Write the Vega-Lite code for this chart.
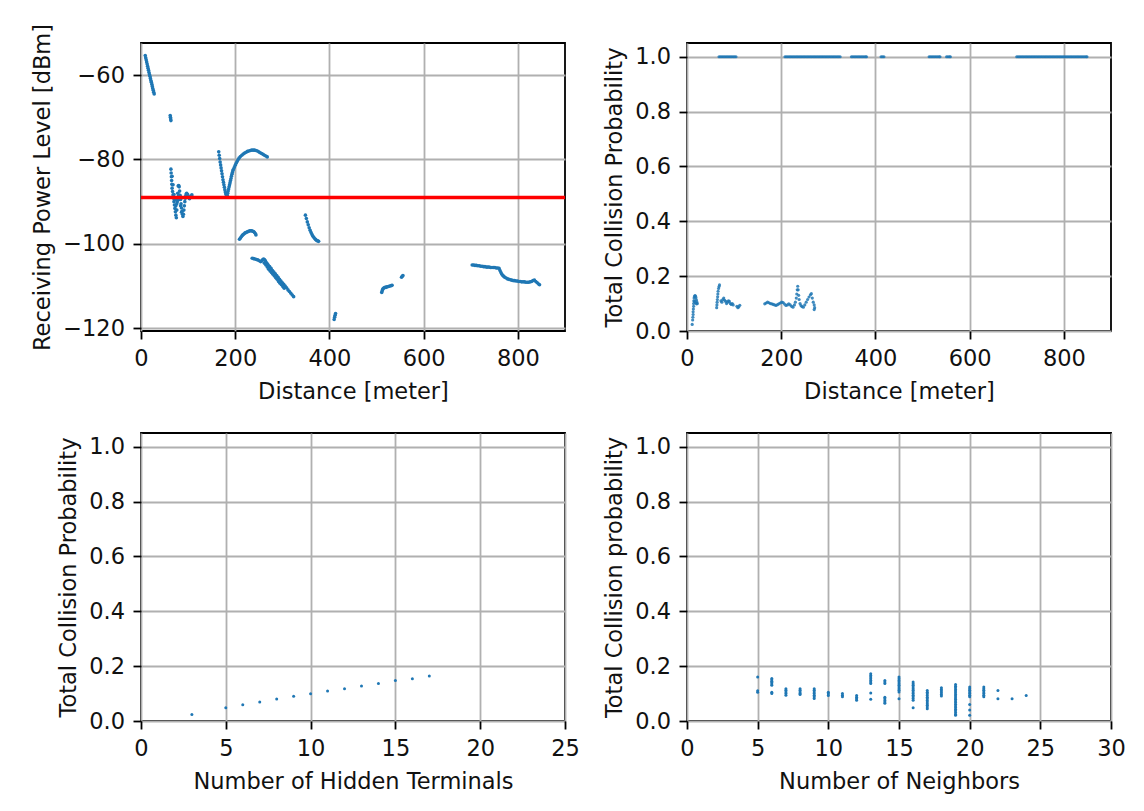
{
  "$schema": "https://vega.github.io/schema/vega-lite/v6.json",
  "background": "white",
  "padding": {"left": 30, "top": 22, "right": 0, "bottom": 0},
  "columns": 2,
  "spacing": {"row": 102, "column": 122},
  "bounds": "flush",
  "config": {
    "font": "DejaVu Sans",
    "view": {"stroke": "black", "strokeWidth": 1.8},
    "axis": {
      "domain": false, "grid": true, "gridColor": "#b0b0b0", "gridWidth": 1.8,
      "tickColor": "black", "tickWidth": 1.8, "tickSize": 8,
      "labelFontSize": 22.5, "labelColor": "#111111", "labelPadding": 8.5,
      "labelFlush": false, "labelBound": false, "labelOverlap": false,
      "titleFontSize": 22.5, "titleFontWeight": "normal", "titleColor": "#111111"
    },
    "axisX": {"titlePadding": 10},
    "axisY": {"titlePadding": 8}
  },
  "datasets": {
    "p1": [
      {"d":9,"p":-55.4},{"d":10,"p":-55.9},{"d":11,"p":-56.4},{"d":12,"p":-56.9},{"d":13,"p":-57.4},{"d":14,"p":-57.9},{"d":15,"p":-58.4},{"d":16,"p":-58.9},{"d":17,"p":-59.4},{"d":18,"p":-59.9},{"d":19,"p":-60.3},{"d":20,"p":-60.8},{"d":21,"p":-61.3},{"d":22,"p":-61.7},{"d":23,"p":-62.2},{"d":24,"p":-62.7},{"d":25,"p":-63.2},{"d":26,"p":-63.6},{"d":27,"p":-64.1},{"d":28,"p":-64.5},
      {"d":62,"p":-69.6},{"d":62.5,"p":-70},{"d":63,"p":-70.4},{"d":63.5,"p":-70.8},
      {"d":63.5,"p":-82.3},{"d":64,"p":-83.2},{"d":64.5,"p":-84.1},{"d":65,"p":-85},{"d":65.5,"p":-85.9},{"d":66,"p":-86.8},{"d":67,"p":-87.6},{"d":68,"p":-88.4},{"d":69,"p":-89.2},{"d":70,"p":-90},{"d":71,"p":-90.8},{"d":72,"p":-91.6},{"d":73,"p":-92.4},{"d":74,"p":-93.2},{"d":75,"p":-93.8},{"d":76,"p":-92},{"d":77,"p":-90},{"d":78,"p":-88},{"d":79,"p":-86.3},{"d":80,"p":-86.2},{"d":81,"p":-86.5},{"d":82,"p":-87.5},{"d":83,"p":-88.5},{"d":84,"p":-89.5},{"d":85,"p":-90.5},{"d":86,"p":-91.5},{"d":87,"p":-92.3},{"d":88,"p":-93},{"d":89,"p":-93.5},{"d":90,"p":-93},{"d":91,"p":-92},{"d":92,"p":-91},{"d":93,"p":-90},{"d":94,"p":-89.2},{"d":95,"p":-88.6},{"d":96,"p":-88.2},{"d":97,"p":-88},{"d":99,"p":-88.3},{"d":101,"p":-88.8},{"d":103,"p":-89.3},{"d":105,"p":-89},{"d":107,"p":-88.6},{"d":108,"p":-88.4},
      {"d":66,"p":-84},{"d":68,"p":-86},{"d":70,"p":-88.3},{"d":72,"p":-89.5},{"d":74,"p":-91},{"d":76,"p":-90.5},{"d":78,"p":-89.5},{"d":80,"p":-88.5},{"d":82,"p":-89.5},{"d":84,"p":-91},{"d":86,"p":-92.5},
      {"d":165,"p":-78.2},{"d":166,"p":-79},{"d":167,"p":-79.8},{"d":168,"p":-80.6},{"d":169,"p":-81.3},{"d":170,"p":-82},{"d":171,"p":-82.7},{"d":172,"p":-83.4},{"d":173,"p":-84.1},{"d":174,"p":-84.8},{"d":175,"p":-85.4},{"d":176,"p":-86},{"d":177,"p":-86.6},{"d":178,"p":-87.2},{"d":179,"p":-87.7},{"d":180,"p":-88.1},{"d":181,"p":-88.4},{"d":182,"p":-88.6},{"d":183,"p":-88.5},
      {"d":184,"p":-88},{"d":185,"p":-87.5},{"d":186,"p":-87},{"d":187,"p":-86.5},{"d":188,"p":-86},{"d":189,"p":-85.5},{"d":190,"p":-85},{"d":191,"p":-84.5},{"d":192,"p":-84},{"d":193,"p":-83.5},{"d":194,"p":-83.1},{"d":195,"p":-82.7},{"d":196,"p":-82.4},{"d":198,"p":-81.9},{"d":200,"p":-81.4},{"d":202,"p":-80.9},{"d":204,"p":-80.5},{"d":206,"p":-80.1},{"d":208,"p":-79.7},{"d":211,"p":-79.3},{"d":214,"p":-79},{"d":217,"p":-78.7},{"d":220,"p":-78.5},{"d":223,"p":-78.3},{"d":226,"p":-78.1},{"d":229,"p":-78},{"d":232,"p":-77.9},{"d":235,"p":-77.8},{"d":238,"p":-77.8},{"d":241,"p":-77.8},{"d":244,"p":-77.9},{"d":247,"p":-78},{"d":250,"p":-78.2},{"d":253,"p":-78.4},{"d":256,"p":-78.6},{"d":259,"p":-78.8},{"d":262,"p":-79},{"d":265,"p":-79.2},{"d":268,"p":-79.4},
      {"d":209,"p":-98.9},{"d":211,"p":-98.6},{"d":213,"p":-98.3},{"d":215,"p":-98},{"d":217,"p":-97.8},{"d":219,"p":-97.6},{"d":221,"p":-97.4},{"d":223,"p":-97.3},{"d":225,"p":-97.2},{"d":227,"p":-97.1},{"d":229,"p":-97},{"d":231,"p":-96.9},{"d":233,"p":-96.9},{"d":235,"p":-96.9},{"d":237,"p":-97},{"d":239,"p":-97.1},{"d":241,"p":-97.3},{"d":243,"p":-97.6},{"d":244,"p":-97.9},
      {"d":236,"p":-103.4},{"d":239,"p":-103.5},{"d":242,"p":-103.6},{"d":245,"p":-103.7},{"d":248,"p":-103.8},{"d":251,"p":-104},{"d":254,"p":-104.2},{"d":256,"p":-104.1},{"d":258,"p":-103.8},{"d":260,"p":-103.6},{"d":262,"p":-103.7},{"d":264,"p":-104},{"d":266,"p":-104.4},{"d":268,"p":-104.7},{"d":270,"p":-105},{"d":273,"p":-105.4},{"d":276,"p":-105.8},{"d":279,"p":-106.3},{"d":282,"p":-106.7},{"d":285,"p":-107.1},{"d":288,"p":-107.5},{"d":291,"p":-107.9},{"d":294,"p":-108.4},{"d":297,"p":-108.8},{"d":300,"p":-109.2},{"d":303,"p":-109.6},{"d":306,"p":-110},{"d":309,"p":-110.4},{"d":312,"p":-110.9},{"d":315,"p":-111.3},{"d":318,"p":-111.7},{"d":321,"p":-112.1},{"d":324,"p":-112.5},
      {"d":262,"p":-104.6},{"d":265,"p":-105},{"d":268,"p":-105.5},{"d":271,"p":-106},{"d":274,"p":-106.4},{"d":277,"p":-106.8},{"d":280,"p":-107.2},{"d":283,"p":-107.6},{"d":286,"p":-108},{"d":289,"p":-108.4},{"d":292,"p":-108.9},{"d":295,"p":-109.3},{"d":298,"p":-109.7},{"d":301,"p":-110.1},{"d":304,"p":-110.5},
      {"d":349,"p":-93.2},{"d":351,"p":-94},{"d":353,"p":-94.8},{"d":355,"p":-95.5},{"d":357,"p":-96.2},{"d":359,"p":-96.8},{"d":361,"p":-97.3},{"d":363,"p":-97.8},{"d":365,"p":-98.2},{"d":367,"p":-98.5},{"d":369,"p":-98.8},{"d":371,"p":-99},{"d":373,"p":-99.2},{"d":375,"p":-99.3},{"d":377,"p":-99.4},
      {"d":410,"p":-117.9},{"d":411,"p":-117.4},{"d":412,"p":-116.9},{"d":413,"p":-116.5},
      {"d":511,"p":-111.5},{"d":512,"p":-111.1},{"d":513,"p":-110.8},{"d":514,"p":-110.6},{"d":516,"p":-110.4},{"d":518,"p":-110.3},{"d":520,"p":-110.3},{"d":522,"p":-110.2},{"d":525,"p":-110.1},{"d":528,"p":-110},{"d":531,"p":-109.9},{"d":533,"p":-109.8},
      {"d":553,"p":-107.9},{"d":554.5,"p":-107.7},{"d":556,"p":-107.5},
      {"d":703,"p":-105},{"d":706,"p":-105},{"d":709,"p":-105.1},{"d":712,"p":-105.1},{"d":715,"p":-105.2},{"d":718,"p":-105.2},{"d":721,"p":-105.3},{"d":724,"p":-105.3},{"d":727,"p":-105.4},{"d":730,"p":-105.4},{"d":733,"p":-105.5},{"d":736,"p":-105.5},{"d":739,"p":-105.5},{"d":742,"p":-105.6},{"d":745,"p":-105.6},{"d":748,"p":-105.6},{"d":751,"p":-105.6},{"d":754,"p":-105.7},{"d":757,"p":-105.7},{"d":760,"p":-105.8},{"d":762,"p":-106.3},{"d":764,"p":-106.8},{"d":766,"p":-107.2},{"d":768,"p":-107.5},{"d":770,"p":-107.7},{"d":772,"p":-107.9},{"d":775,"p":-108.1},{"d":778,"p":-108.3},{"d":781,"p":-108.4},{"d":784,"p":-108.5},{"d":787,"p":-108.6},{"d":790,"p":-108.7},{"d":793,"p":-108.7},{"d":796,"p":-108.8},{"d":799,"p":-108.8},{"d":802,"p":-108.9},{"d":805,"p":-108.9},{"d":808,"p":-109},{"d":811,"p":-109},{"d":814,"p":-109},{"d":817,"p":-109.1},{"d":820,"p":-109.1},{"d":823,"p":-109.1},{"d":826,"p":-109},{"d":829,"p":-108.9},{"d":832,"p":-108.7},{"d":835,"p":-108.6},{"d":838,"p":-108.9},{"d":841,"p":-109.2},{"d":844,"p":-109.5},{"d":846,"p":-109.7}
    ],
    "thr": [{"p": -89}],
    "p2": [
      {"d":68,"c":1},{"d":71,"c":1},{"d":74,"c":1},{"d":77,"c":1},{"d":80,"c":1},{"d":83,"c":1},{"d":86,"c":1},{"d":89,"c":1},{"d":92,"c":1},{"d":95,"c":1},{"d":98,"c":1},{"d":101,"c":1},{"d":104,"c":1},
      {"d":208,"c":1},{"d":211,"c":1},{"d":214,"c":1},{"d":217,"c":1},{"d":220,"c":1},{"d":223,"c":1},{"d":226,"c":1},{"d":229,"c":1},{"d":232,"c":1},{"d":235,"c":1},{"d":238,"c":1},{"d":241,"c":1},{"d":244,"c":1},{"d":247,"c":1},{"d":250,"c":1},{"d":253,"c":1},{"d":256,"c":1},{"d":259,"c":1},{"d":262,"c":1},{"d":265,"c":1},{"d":268,"c":1},{"d":271,"c":1},{"d":274,"c":1},{"d":277,"c":1},{"d":280,"c":1},{"d":283,"c":1},{"d":286,"c":1},{"d":289,"c":1},{"d":292,"c":1},{"d":295,"c":1},{"d":298,"c":1},{"d":301,"c":1},{"d":304,"c":1},{"d":307,"c":1},{"d":310,"c":1},{"d":313,"c":1},{"d":316,"c":1},{"d":319,"c":1},{"d":322,"c":1},{"d":325,"c":1},
      {"d":349,"c":1},{"d":352,"c":1},{"d":355,"c":1},{"d":358,"c":1},{"d":361,"c":1},{"d":364,"c":1},{"d":367,"c":1},{"d":370,"c":1},{"d":373,"c":1},{"d":376,"c":1},{"d":379,"c":1},{"d":381,"c":1},
      {"d":412,"c":1},{"d":415,"c":1},{"d":418,"c":1},
      {"d":514,"c":1},{"d":517,"c":1},{"d":520,"c":1},{"d":523,"c":1},{"d":526,"c":1},{"d":529,"c":1},{"d":532,"c":1},{"d":535,"c":1},{"d":537,"c":1},
      {"d":551,"c":1},{"d":554,"c":1},{"d":557,"c":1},{"d":559,"c":1},
      {"d":700,"c":1},{"d":703,"c":1},{"d":706,"c":1},{"d":709,"c":1},{"d":712,"c":1},{"d":715,"c":1},{"d":718,"c":1},{"d":721,"c":1},{"d":724,"c":1},{"d":727,"c":1},{"d":730,"c":1},{"d":733,"c":1},{"d":736,"c":1},{"d":739,"c":1},{"d":742,"c":1},{"d":745,"c":1},{"d":748,"c":1},{"d":751,"c":1},{"d":754,"c":1},{"d":757,"c":1},{"d":760,"c":1},{"d":763,"c":1},{"d":766,"c":1},{"d":769,"c":1},{"d":772,"c":1},{"d":775,"c":1},{"d":778,"c":1},{"d":781,"c":1},{"d":784,"c":1},{"d":787,"c":1},{"d":790,"c":1},{"d":793,"c":1},{"d":796,"c":1},{"d":799,"c":1},{"d":802,"c":1},{"d":805,"c":1},{"d":808,"c":1},{"d":811,"c":1},{"d":814,"c":1},{"d":817,"c":1},{"d":820,"c":1},{"d":823,"c":1},{"d":826,"c":1},{"d":829,"c":1},{"d":832,"c":1},{"d":835,"c":1},{"d":838,"c":1},{"d":841,"c":1},{"d":844,"c":1},{"d":847,"c":1},{"d":849,"c":1},
      {"d":11,"c":0.024},{"d":12,"c":0.04},{"d":12.5,"c":0.05},{"d":13,"c":0.06},{"d":13,"c":0.07},{"d":13.5,"c":0.08},{"d":14,"c":0.09},{"d":14,"c":0.1},{"d":14.5,"c":0.11},{"d":15,"c":0.12},{"d":16,"c":0.126},{"d":17,"c":0.129},{"d":18,"c":0.127},{"d":19,"c":0.121},{"d":20,"c":0.113},{"d":21,"c":0.106},{"d":22,"c":0.1},{"d":20,"c":0.099},{"d":18,"c":0.103},{"d":16,"c":0.108},
      {"d":63,"c":0.085},{"d":63.5,"c":0.095},{"d":64,"c":0.105},{"d":64.5,"c":0.115},{"d":65,"c":0.125},{"d":65.5,"c":0.135},{"d":66,"c":0.145},{"d":67,"c":0.155},{"d":68,"c":0.162},{"d":69,"c":0.168},{"d":72,"c":0.11},{"d":74,"c":0.105},{"d":76,"c":0.115},{"d":78,"c":0.12},{"d":80,"c":0.112},{"d":82,"c":0.108},{"d":84,"c":0.1},{"d":86,"c":0.105},{"d":88,"c":0.11},{"d":90,"c":0.108},{"d":92,"c":0.1},{"d":94,"c":0.097},{"d":96,"c":0.1},{"d":98,"c":0.095},{"d":106,"c":0.09},{"d":108,"c":0.085},{"d":110,"c":0.088},{"d":112,"c":0.094},
      {"d":165,"c":0.099},{"d":168,"c":0.102},{"d":171,"c":0.105},{"d":174,"c":0.103},{"d":177,"c":0.1},{"d":180,"c":0.099},{"d":183,"c":0.097},{"d":186,"c":0.095},{"d":189,"c":0.093},{"d":192,"c":0.096},{"d":195,"c":0.099},{"d":198,"c":0.102},{"d":201,"c":0.105},{"d":204,"c":0.104},{"d":207,"c":0.098},{"d":210,"c":0.093},{"d":213,"c":0.095},{"d":216,"c":0.099},{"d":219,"c":0.095},{"d":222,"c":0.09},{"d":225,"c":0.087},{"d":228,"c":0.095},{"d":230,"c":0.105},{"d":232,"c":0.12},{"d":233,"c":0.135},{"d":234,"c":0.15},{"d":235,"c":0.163},{"d":236,"c":0.15},{"d":237,"c":0.13},{"d":238,"c":0.115},{"d":240,"c":0.1},{"d":242,"c":0.093},{"d":244,"c":0.089},{"d":247,"c":0.087},{"d":250,"c":0.095},{"d":253,"c":0.105},{"d":256,"c":0.115},{"d":259,"c":0.124},{"d":262,"c":0.132},{"d":264,"c":0.136},{"d":266,"c":0.12},{"d":268,"c":0.105},{"d":270,"c":0.095},{"d":271,"c":0.085},{"d":270,"c":0.078}
    ],
    "p3": [
      {"h":3,"c":0.024},{"h":5,"c":0.048},{"h":6,"c":0.059},{"h":7,"c":0.069},{"h":8,"c":0.08},{"h":9,"c":0.09},{"h":10,"c":0.099},{"h":11,"c":0.109},{"h":12,"c":0.118},{"h":13,"c":0.128},{"h":14,"c":0.137},{"h":15,"c":0.148},{"h":16,"c":0.154},{"h":17,"c":0.164}
    ],
    "p4": [
      {"n":5,"c":0.16},{"n":5,"c":0.11},{"n":5,"c":0.105},
      {"n":6,"c":0.155},{"n":6,"c":0.15},{"n":6,"c":0.145},{"n":6,"c":0.14},{"n":6,"c":0.135},{"n":6,"c":0.13},{"n":6,"c":0.105},{"n":6,"c":0.1},
      {"n":7,"c":0.118},{"n":7,"c":0.112},{"n":7,"c":0.106},{"n":7,"c":0.1},{"n":7,"c":0.094},
      {"n":8,"c":0.118},{"n":8,"c":0.112},{"n":8,"c":0.106},{"n":8,"c":0.1},{"n":8,"c":0.097},
      {"n":9,"c":0.118},{"n":9,"c":0.112},{"n":9,"c":0.106},{"n":9,"c":0.1},{"n":9,"c":0.094},{"n":9,"c":0.088},{"n":9,"c":0.082},
      {"n":10,"c":0.105},{"n":10,"c":0.099},{"n":10,"c":0.093},
      {"n":11,"c":0.1},{"n":11,"c":0.094},{"n":11,"c":0.088},
      {"n":12,"c":0.093},{"n":12,"c":0.087},{"n":12,"c":0.081},{"n":12,"c":0.076},
      {"n":13,"c":0.172},{"n":13,"c":0.166},{"n":13,"c":0.16},{"n":13,"c":0.154},{"n":13,"c":0.148},{"n":13,"c":0.142},{"n":13,"c":0.137},{"n":13,"c":0.102},{"n":13,"c":0.079},
      {"n":14,"c":0.148},{"n":14,"c":0.142},{"n":14,"c":0.137},{"n":14,"c":0.087},{"n":14,"c":0.081},{"n":14,"c":0.075},{"n":14,"c":0.069},{"n":14,"c":0.065},
      {"n":15,"c":0.16},{"n":15,"c":0.154},{"n":15,"c":0.148},{"n":15,"c":0.142},{"n":15,"c":0.136},{"n":15,"c":0.13},{"n":15,"c":0.124},{"n":15,"c":0.118},{"n":15,"c":0.112},{"n":15,"c":0.106},{"n":15,"c":0.081},
      {"n":16,"c":0.142},{"n":16,"c":0.136},{"n":16,"c":0.13},{"n":16,"c":0.124},{"n":16,"c":0.118},{"n":16,"c":0.112},{"n":16,"c":0.106},{"n":16,"c":0.1},{"n":16,"c":0.094},{"n":16,"c":0.088},{"n":16,"c":0.082},{"n":16,"c":0.076},{"n":16,"c":0.048},
      {"n":17,"c":0.111},{"n":17,"c":0.105},{"n":17,"c":0.099},{"n":17,"c":0.093},{"n":17,"c":0.087},{"n":17,"c":0.081},{"n":17,"c":0.075},{"n":17,"c":0.069},{"n":17,"c":0.063},{"n":17,"c":0.057},{"n":17,"c":0.051},{"n":17,"c":0.045},
      {"n":18,"c":0.121},{"n":18,"c":0.115},{"n":18,"c":0.109},{"n":18,"c":0.103},{"n":18,"c":0.097},{"n":18,"c":0.091},
      {"n":19,"c":0.133},{"n":19,"c":0.127},{"n":19,"c":0.121},{"n":19,"c":0.115},{"n":19,"c":0.109},{"n":19,"c":0.103},{"n":19,"c":0.097},{"n":19,"c":0.091},{"n":19,"c":0.085},{"n":19,"c":0.079},{"n":19,"c":0.073},{"n":19,"c":0.067},{"n":19,"c":0.061},{"n":19,"c":0.055},{"n":19,"c":0.049},{"n":19,"c":0.043},{"n":19,"c":0.037},{"n":19,"c":0.031},{"n":19,"c":0.025},{"n":19,"c":0.021},
      {"n":20,"c":0.124},{"n":20,"c":0.118},{"n":20,"c":0.112},{"n":20,"c":0.106},{"n":20,"c":0.1},{"n":20,"c":0.094},{"n":20,"c":0.088},{"n":20,"c":0.06},{"n":20,"c":0.04},{"n":20,"c":0.021},
      {"n":21,"c":0.124},{"n":21,"c":0.118},{"n":21,"c":0.112},{"n":21,"c":0.106},{"n":21,"c":0.1},{"n":21,"c":0.094},{"n":21,"c":0.088},
      {"n":22,"c":0.111},{"n":22,"c":0.081},
      {"n":23,"c":0.081},
      {"n":24,"c":0.093}
    ]
  },
  "concat": [
    {
      "width": 424, "height": 288,
      "layer": [
        {
          "data": {"name": "p1"},
          "mark": {"type": "circle", "size": 13, "color": "#1f77b4", "opacity": 1},
          "encoding": {
            "x": {"field": "d", "type": "quantitative", "scale": {"domain": [0, 900], "nice": false, "zero": false}, "axis": {"values": [0, 200, 400, 600, 800], "title": "Distance [meter]"}},
            "y": {"field": "p", "type": "quantitative", "scale": {"domain": [-120.64, -52.42], "nice": false, "zero": false}, "axis": {"values": [-120, -100, -80, -60], "format": "d", "title": "Receiving Power Level [dBm]"}}
          }
        },
        {
          "data": {"name": "thr"},
          "mark": {"type": "rule", "color": "#ff0000", "strokeWidth": 3.5},
          "encoding": {"y": {"field": "p", "type": "quantitative"}}
        }
      ]
    },
    {
      "width": 424, "height": 288,
      "data": {"name": "p2"},
      "mark": {"type": "circle", "size": 10, "color": "#1f77b4", "opacity": 0.85},
      "encoding": {
        "x": {"field": "d", "type": "quantitative", "scale": {"domain": [0, 900], "nice": false, "zero": false}, "axis": {"values": [0, 200, 400, 600, 800], "title": "Distance [meter]"}},
        "y": {"field": "c", "type": "quantitative", "scale": {"domain": [0, 1.05], "nice": false}, "axis": {"values": [0, 0.2, 0.4, 0.6, 0.8, 1.0], "format": ".1f", "title": "Total Collision Probability"}}
      }
    },
    {
      "width": 424, "height": 288,
      "data": {"name": "p3"},
      "mark": {"type": "circle", "size": 9, "color": "#1f77b4", "opacity": 1},
      "encoding": {
        "x": {"field": "h", "type": "quantitative", "scale": {"domain": [0, 25], "nice": false}, "axis": {"values": [0, 5, 10, 15, 20, 25], "title": "Number of Hidden Terminals"}},
        "y": {"field": "c", "type": "quantitative", "scale": {"domain": [0, 1.05], "nice": false}, "axis": {"values": [0, 0.2, 0.4, 0.6, 0.8, 1.0], "format": ".1f", "title": "Total Collision Probability"}}
      }
    },
    {
      "width": 424, "height": 288,
      "data": {"name": "p4"},
      "mark": {"type": "circle", "size": 9, "color": "#1f77b4", "opacity": 1},
      "encoding": {
        "x": {"field": "n", "type": "quantitative", "scale": {"domain": [0, 30], "nice": false}, "axis": {"values": [0, 5, 10, 15, 20, 25, 30], "title": "Number of Neighbors"}},
        "y": {"field": "c", "type": "quantitative", "scale": {"domain": [0, 1.05], "nice": false}, "axis": {"values": [0, 0.2, 0.4, 0.6, 0.8, 1.0], "format": ".1f", "title": "Total Collision probability"}}
      }
    }
  ]
}
